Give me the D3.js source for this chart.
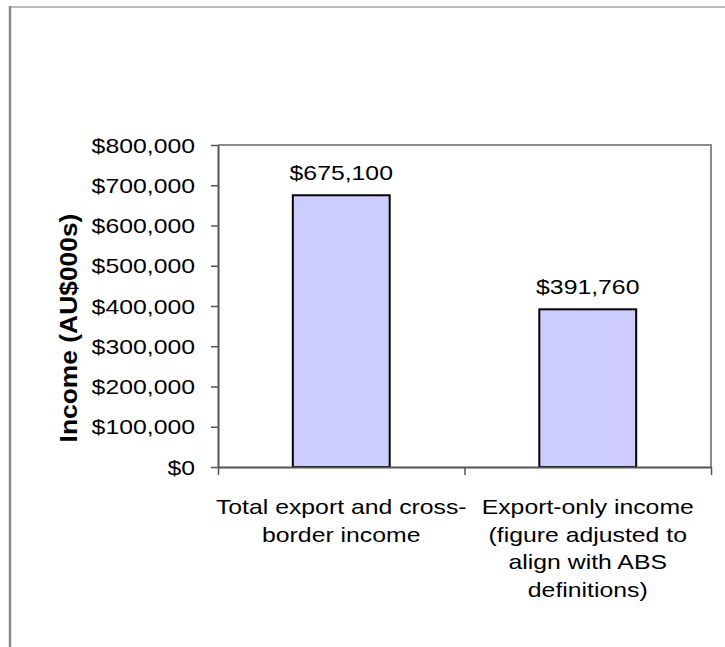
<!DOCTYPE html>
<html>
<head>
<meta charset="utf-8">
<script src="https://cdn.jsdelivr.net/npm/d3@7"></script>
<style>
  body { margin: 0; background: #fff; }
  text { font-family: "Liberation Sans", Arial, sans-serif; fill: #000; }
</style>
</head>
<body>
<svg id="chart" width="725" height="647"></svg>
<script>
// data
var categories = ["Total export and cross-border income",
                  "Export-only income (figure adjusted to align with ABS definitions)"];
var categoryLines = [["Total export and cross-", "border income"],
                     ["Export-only income", "(figure adjusted to", "align with ABS", "definitions)"]];
var values = [675100, 391760];
var yTicks = [0, 100000, 200000, 300000, 400000, 500000, 600000, 700000, 800000];
var yTitle = "Income (AU$000s)";

var svg = d3.select("#chart"),
    plot = {left: 218, right: 711, top: 145, bottom: 467},
    stretch = 1.24,       // the original text is drawn wide
    fontSize = "20px",
    fmt = d => "$" + d3.format(",")(d);

// chart area border (only top and left are visible)
svg.append("line")
    .attr("x1", 9).attr("x2", 725).attr("y1", 7).attr("y2", 7)
    .attr("stroke", "#bdbdbd").attr("stroke-width", 2);
svg.append("line")
    .attr("x1", 10).attr("x2", 10).attr("y1", 6).attr("y2", 647)
    .attr("stroke", "#8a8a8a").attr("stroke-width", 2.5);

var y = d3.scaleLinear()
    .domain([0, 800000])
    .range([plot.bottom, plot.top]);

var x = d3.scaleBand()
    .domain(categories)
    .range([plot.left, plot.right])
    .paddingInner(0.607)
    .paddingOuter(0.3035);

var xEdge = d3.scaleLinear()
    .domain([0, categories.length])
    .range([plot.left, plot.right]);

// plot area frame (top and right)
svg.append("path")
    .attr("d", `M${plot.left},${plot.top}H${plot.right}V${plot.bottom}`)
    .attr("fill", "none")
    .attr("stroke", "#8c8c8c")
    .attr("stroke-width", 2);

// bars
svg.selectAll("rect.bar")
    .data(values)
    .enter().append("rect")
    .attr("class", "bar")
    .attr("x", (d, i) => x(categories[i]))
    .attr("width", x.bandwidth())
    .attr("y", d => y(d))
    .attr("height", d => y(0) - y(d))
    .attr("fill", "#ccccff")
    .attr("stroke", "#000")
    .attr("stroke-width", 2);

// value labels
svg.selectAll("text.value")
    .data(values)
    .enter().append("text")
    .attr("class", "value")
    .attr("text-anchor", "middle")
    .attr("transform", (d, i) => `translate(${x(categories[i]) + x.bandwidth() / 2},${y(d) - 15}) scale(${stretch},1)`)
    .style("font-size", fontSize)
    .text(fmt);

// y axis
var yAxis = svg.append("g")
    .attr("transform", `translate(${plot.left},0)`)
    .call(d3.axisLeft(y).tickValues(yTicks).tickFormat(fmt).tickSize(7).tickSizeOuter(0));

yAxis.select(".domain").attr("stroke", "#555").attr("stroke-width", 2);
yAxis.selectAll(".tick line").attr("stroke", "#555").attr("stroke-width", 1.5);
yAxis.selectAll(".tick text")
    .attr("x", 0)
    .attr("dy", "0.35em")
    .attr("transform", `translate(-23,0) scale(${stretch},1)`)
    .style("font-size", fontSize)
    .style("font-family", "'Liberation Sans', Arial, sans-serif");

// x axis, ticks on the category edges
var xAxis = svg.append("g")
    .attr("transform", `translate(0,${plot.bottom})`)
    .call(d3.axisBottom(xEdge).tickValues(d3.range(categories.length + 1)).tickFormat("").tickSize(8).tickSizeOuter(0));

xAxis.select(".domain").attr("stroke", "#555").attr("stroke-width", 2);
xAxis.selectAll(".tick line").attr("stroke", "#555").attr("stroke-width", 1.5);

// category labels
var cat = svg.selectAll("g.cat")
    .data(categoryLines)
    .enter().append("g")
    .attr("class", "cat")
    .attr("transform", (d, i) => `translate(${x(categories[i]) + x.bandwidth() / 2},514)`);

cat.selectAll("text")
    .data(d => d)
    .enter().append("text")
    .attr("text-anchor", "middle")
    .attr("transform", (d, i) => `translate(0,${i * 27.5}) scale(${stretch},1)`)
    .style("font-size", fontSize)
    .text(d => d);

// y axis title
svg.append("text")
    .attr("text-anchor", "middle")
    .attr("transform", "translate(77,328) rotate(-90) scale(1.1,1)")
    .style("font-size", "24px")
    .style("font-weight", "bold")
    .text(yTitle);
</script>
</body>
</html>
